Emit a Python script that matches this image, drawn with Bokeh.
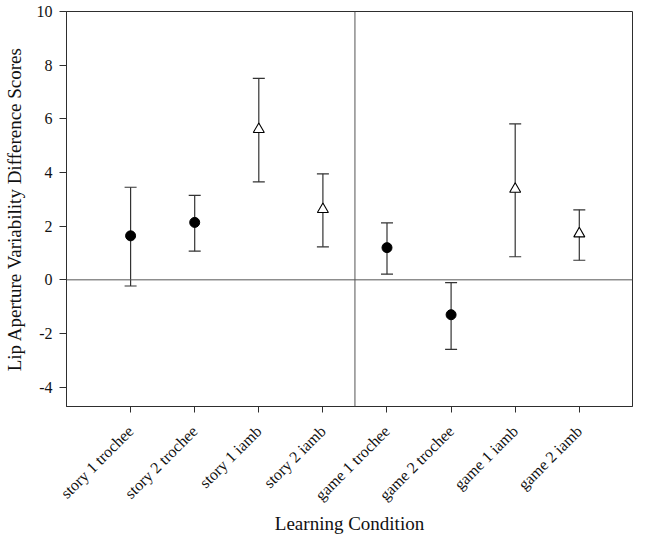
import math
from bokeh.plotting import figure
from bokeh.models import (ColumnDataSource, Whisker, TeeHead, Span, Range1d,
                          FixedTicker)
from bokeh.embed import file_html
from bokeh.resources import INLINE

# ---- data ----
conditions = ["story 1 trochee", "story 2 trochee", "story 1 iamb", "story 2 iamb",
              "game 1 trochee", "game 2 trochee", "game 1 iamb", "game 2 iamb"]
stress = ["trochee", "trochee", "iamb", "iamb", "trochee", "trochee", "iamb", "iamb"]
means = [1.64, 2.14, 5.61, 2.63, 1.20, -1.30, 3.38, 1.72]
upper = [3.45, 3.15, 7.51, 3.95, 2.12, -0.10, 5.81, 2.61]
lower = [-0.23, 1.07, 3.65, 1.23, 0.21, -2.59, 0.86, 0.73]
y_ticks = [-4, -2, 0, 2, 4, 6, 8, 10]
y_tick_labels = ["-4", "-2", "0", "2", "4", "6", "8", "10"]
divider = 4.5

FONT = "Liberation Serif"
DARK = "#2e2e2e"
LINE = "#333333"

xpos = list(range(1, len(conditions) + 1))

p = figure(width=633, height=536, output_backend="svg", toolbar_location=None,
           x_range=Range1d(0, 8.83), y_range=Range1d(-4.72, 10),
           min_border_left=66, min_border_top=11, min_border_right=1,
           min_border_bottom=120)

p.grid.visible = False
p.outline_line_color = DARK
p.outline_line_width = 1
p.background_fill_color = "white"
p.border_fill_color = "white"

# reference lines
p.add_layout(Span(location=0, dimension="width", line_color="#555555", line_width=1))
p.add_layout(Span(location=divider, dimension="height", line_color="#555555", line_width=1))

src = ColumnDataSource(dict(x=xpos, mean=means, upper=upper, lower=lower,
                            stress=stress))
whisk = Whisker(source=src, base="x", upper="upper", lower="lower",
                dimension="height", line_color=LINE, line_width=1.2,
                upper_head=TeeHead(size=12, line_color=LINE, line_width=1.2),
                lower_head=TeeHead(size=12, line_color=LINE, line_width=1.2))
p.add_layout(whisk)

tx = [x for x, s in zip(xpos, stress) if s == "trochee"]
ty = [m for m, s in zip(means, stress) if s == "trochee"]
ix = [x for x, s in zip(xpos, stress) if s == "iamb"]
iy = [m for m, s in zip(means, stress) if s == "iamb"]

p.scatter(tx, ty, marker="circle", size=10, fill_color="black", line_color="black")
p.scatter(ix, iy, marker="triangle", size=11, fill_color="white", line_color="black",
          line_width=1.1)

# x axis
p.xaxis.ticker = FixedTicker(ticks=xpos)
p.xaxis.major_label_overrides = {x: c for x, c in zip(xpos, conditions)}
p.xaxis.major_label_orientation = math.pi / 4
p.xaxis.minor_tick_line_color = None
p.xaxis.major_tick_in = 0
p.xaxis.major_tick_out = 6
p.xaxis.major_label_standoff = 16
p.xaxis.axis_label = "Learning Condition"
p.xaxis.axis_label_standoff = 0

# y axis
p.yaxis.ticker = FixedTicker(ticks=y_ticks)
p.yaxis.major_label_overrides = {t: l for t, l in zip(y_ticks, y_tick_labels)}
p.yaxis.minor_tick_line_color = None
p.yaxis.major_tick_in = 0
p.yaxis.major_tick_out = 7
p.yaxis.major_label_standoff = 7
p.yaxis.axis_label = "Lip Aperture Variability Difference Scores"
p.yaxis.axis_label_standoff = 9

for ax in (p.xaxis, p.yaxis):
    ax.axis_line_color = DARK
    ax.major_tick_line_color = DARK
    ax.major_label_text_font = FONT
    ax.major_label_text_color = "#111111"
    ax.axis_label_text_font = FONT
    ax.axis_label_text_font_style = "normal"
    ax.axis_label_text_color = "#111111"
    ax.axis_label_text_font_size = "19px"
p.xaxis.major_label_text_font_size = "16px"
p.yaxis.major_label_text_font_size = "16px"

open("out.html", "w").write(file_html(p, INLINE))
